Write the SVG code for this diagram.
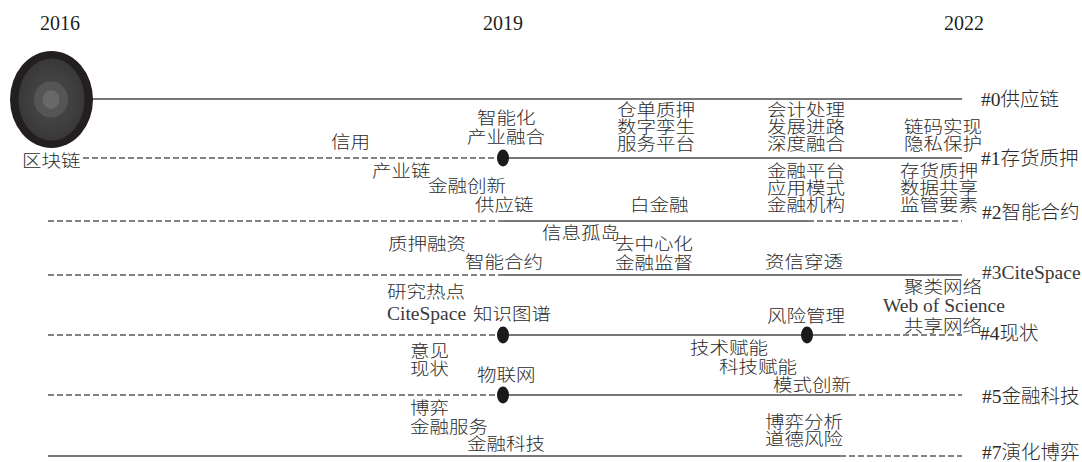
<svg xmlns="http://www.w3.org/2000/svg" width="1082" height="462" viewBox="0 0 1082 462">
  <defs>
    <radialGradient id="coreGrad" cx="50%" cy="50%" r="50%">
      <stop offset="0" stop-color="#4a4a4a"/>
      <stop offset="0.7" stop-color="#3f3f3f"/>
      <stop offset="1" stop-color="#383838"/>
    </radialGradient>
  </defs>
  <style>
    text { font-family: "Liberation Serif", "Noto Sans CJK SC", serif; font-size: 19.5px; fill: #2b2b2b; font-weight: 300; }
    /* keyword labels: wide, squat glyphs */
    text.k { font-size: 17px; }
    text.lat { fill: #3a3a3a; }
    .year { font-size: 20px; font-weight: 400; fill: #231f20; }
    .solid { stroke: #4a4a4a; stroke-width: 1.6; fill: none; }
    .dash { stroke: #5a5a5a; stroke-width: 1.6; stroke-dasharray: 6 3; fill: none; }
    .dot { fill: #1a1a1a; }
  </style>
  <rect width="1082" height="462" fill="#ffffff"/>

  <!-- time axis -->
  <g id="years">
    <text class="year" x="40" y="30">2016</text>
    <text class="year" x="483" y="30">2019</text>
    <text class="year" x="944" y="30">2022</text>
  </g>

  <!-- cluster timelines -->
  <g id="connectors">
    <!-- #0 -->
    <line class="solid" x1="92" y1="99" x2="962" y2="99"/>
    <!-- #1 -->
    <line class="dash" x1="83" y1="158" x2="503" y2="158"/>
    <line class="solid" x1="503" y1="158" x2="962" y2="158"/>
    <!-- #2 -->
    <line class="dash" x1="48" y1="221" x2="504" y2="221"/>
    <line class="solid" x1="504" y1="221" x2="808" y2="221"/>
    <line class="dash" x1="808" y1="221" x2="962" y2="221"/>
    <!-- #3 -->
    <line class="dash" x1="48" y1="275" x2="503" y2="275"/>
    <line class="solid" x1="503" y1="275" x2="962" y2="275"/>
    <!-- #4 -->
    <line class="dash" x1="48" y1="335" x2="503" y2="335"/>
    <line class="solid" x1="503" y1="335" x2="840" y2="335"/>
    <line class="dash" x1="840" y1="335" x2="962" y2="335"/>
    <!-- #5 -->
    <line class="dash" x1="48" y1="395" x2="503" y2="395"/>
    <line class="solid" x1="503" y1="395" x2="850" y2="395"/>
    <line class="dash" x1="850" y1="395" x2="962" y2="395"/>
    <!-- #7 -->
    <line class="solid" x1="48" y1="456" x2="840" y2="456"/>
    <line class="dash" x1="840" y1="456" x2="962" y2="456"/>
  </g>

  <!-- keyword nodes -->
  <g id="node-blockchain">
    <ellipse cx="51.5" cy="99.5" rx="41.5" ry="48.5" fill="#231f20"/>
    <ellipse cx="51.5" cy="99.5" rx="33" ry="41" fill="url(#coreGrad)"/>
    <ellipse cx="51" cy="99.5" rx="17" ry="18" fill="#555555"/>
    <ellipse cx="51" cy="99.5" rx="8.5" ry="9.5" fill="#686868"/>
    <text class="k" x="22" y="167" textLength="58.5" lengthAdjust="spacingAndGlyphs">区块链</text>
  </g>
  <g id="node-dot-1"><ellipse class="dot" cx="503" cy="158" rx="6" ry="8.5"/></g>
  <g id="node-dot-4a"><ellipse class="dot" cx="503" cy="335" rx="6" ry="8.5"/></g>
  <g id="node-dot-4b"><ellipse class="dot" cx="807" cy="335" rx="6" ry="8.5"/></g>
  <g id="node-dot-5"><ellipse class="dot" cx="503" cy="395" rx="6" ry="8.5"/></g>

  <!-- cluster #0 keywords -->
  <g id="cluster-0">
    <text x="981" y="106">#0供应链</text>
    <text class="k" x="331" y="148" textLength="39" lengthAdjust="spacingAndGlyphs">信用</text>
    <text class="k" x="477" y="124" textLength="58.5" lengthAdjust="spacingAndGlyphs">智能化</text>
    <text class="k" x="467" y="143" textLength="78" lengthAdjust="spacingAndGlyphs">产业融合</text>
    <text class="k" x="617" y="116" textLength="78" lengthAdjust="spacingAndGlyphs">仓单质押</text>
    <text class="k" x="617" y="133" textLength="78" lengthAdjust="spacingAndGlyphs">数字孪生</text>
    <text class="k" x="617" y="150" textLength="78" lengthAdjust="spacingAndGlyphs">服务平台</text>
    <text class="k" x="767" y="116" textLength="78" lengthAdjust="spacingAndGlyphs">会计处理</text>
    <text class="k" x="767" y="133" textLength="78" lengthAdjust="spacingAndGlyphs">发展进路</text>
    <text class="k" x="767" y="150" textLength="78" lengthAdjust="spacingAndGlyphs">深度融合</text>
    <text class="k" x="904" y="133" textLength="78" lengthAdjust="spacingAndGlyphs">链码实现</text>
    <text class="k" x="904" y="150" textLength="78" lengthAdjust="spacingAndGlyphs">隐私保护</text>
  </g>
  <!-- cluster #1 keywords -->
  <g id="cluster-1">
    <text x="981" y="165">#1存货质押</text>
    <text class="k" x="372" y="177" textLength="58.5" lengthAdjust="spacingAndGlyphs">产业链</text>
    <text class="k" x="428" y="192" textLength="78" lengthAdjust="spacingAndGlyphs">金融创新</text>
    <text class="k" x="475" y="211" textLength="58.5" lengthAdjust="spacingAndGlyphs">供应链</text>
    <text class="k" x="630" y="211" textLength="58.5" lengthAdjust="spacingAndGlyphs">白金融</text>
    <text class="k" x="767" y="177" textLength="78" lengthAdjust="spacingAndGlyphs">金融平台</text>
    <text class="k" x="767" y="194" textLength="78" lengthAdjust="spacingAndGlyphs">应用模式</text>
    <text class="k" x="767" y="211" textLength="78" lengthAdjust="spacingAndGlyphs">金融机构</text>
    <text class="k" x="900" y="177" textLength="78" lengthAdjust="spacingAndGlyphs">存货质押</text>
    <text class="k" x="900" y="194" textLength="78" lengthAdjust="spacingAndGlyphs">数据共享</text>
    <text class="k" x="900" y="211" textLength="78" lengthAdjust="spacingAndGlyphs">监管要素</text>
  </g>
  <!-- cluster #2 keywords -->
  <g id="cluster-2">
    <text x="982" y="219">#2智能合约</text>
    <text class="k" x="542" y="239" textLength="78" lengthAdjust="spacingAndGlyphs">信息孤岛</text>
    <text class="k" x="615" y="250" textLength="78" lengthAdjust="spacingAndGlyphs">去中心化</text>
    <text class="k" x="615" y="269" textLength="78" lengthAdjust="spacingAndGlyphs">金融监督</text>
    <text class="k" x="388" y="250" textLength="78" lengthAdjust="spacingAndGlyphs">质押融资</text>
    <text class="k" x="465" y="268" textLength="78" lengthAdjust="spacingAndGlyphs">智能合约</text>
    <text class="k" x="765" y="268" textLength="78" lengthAdjust="spacingAndGlyphs">资信穿透</text>
  </g>
  <!-- cluster #3 keywords -->
  <g id="cluster-3">
    <text class="lat" x="982" y="279">#3CiteSpace</text>
    <text class="k" x="904" y="293" textLength="78" lengthAdjust="spacingAndGlyphs">聚类网络</text>
    <text class="lat" x="883" y="312">Web of Science</text>
    <text class="k" x="904" y="332" textLength="78" lengthAdjust="spacingAndGlyphs">共享网络</text>
    <text class="k" x="387" y="298" textLength="78" lengthAdjust="spacingAndGlyphs">研究热点</text>
    <text class="lat" x="387" y="320">CiteSpace</text>
    <text class="k" x="473" y="320" textLength="78" lengthAdjust="spacingAndGlyphs">知识图谱</text>
    <text class="k" x="767" y="322" textLength="78" lengthAdjust="spacingAndGlyphs">风险管理</text>
  </g>
  <!-- cluster #4 keywords -->
  <g id="cluster-4">
    <text x="980" y="340">#4现状</text>
    <text class="k" x="410" y="357" textLength="39" lengthAdjust="spacingAndGlyphs">意见</text>
    <text class="k" x="410" y="375" textLength="39" lengthAdjust="spacingAndGlyphs">现状</text>
    <text class="k" x="477" y="381" textLength="58.5" lengthAdjust="spacingAndGlyphs">物联网</text>
    <text class="k" x="690" y="354" textLength="78" lengthAdjust="spacingAndGlyphs">技术赋能</text>
    <text class="k" x="719" y="373" textLength="78" lengthAdjust="spacingAndGlyphs">科技赋能</text>
    <text class="k" x="773" y="391" textLength="78" lengthAdjust="spacingAndGlyphs">模式创新</text>
  </g>
  <!-- cluster #5 keywords -->
  <g id="cluster-5">
    <text x="982" y="403">#5金融科技</text>
    <text class="k" x="410" y="414" textLength="39" lengthAdjust="spacingAndGlyphs">博弈</text>
    <text class="k" x="410" y="433" textLength="78" lengthAdjust="spacingAndGlyphs">金融服务</text>
    <text class="k" x="467" y="450" textLength="78" lengthAdjust="spacingAndGlyphs">金融科技</text>
    <text class="k" x="765" y="428" textLength="78" lengthAdjust="spacingAndGlyphs">博弈分析</text>
    <text class="k" x="765" y="445" textLength="78" lengthAdjust="spacingAndGlyphs">道德风险</text>
  </g>
  <!-- cluster #7 label -->
  <g id="cluster-7">
    <text x="982" y="459">#7演化博弈</text>
  </g>
</svg>
